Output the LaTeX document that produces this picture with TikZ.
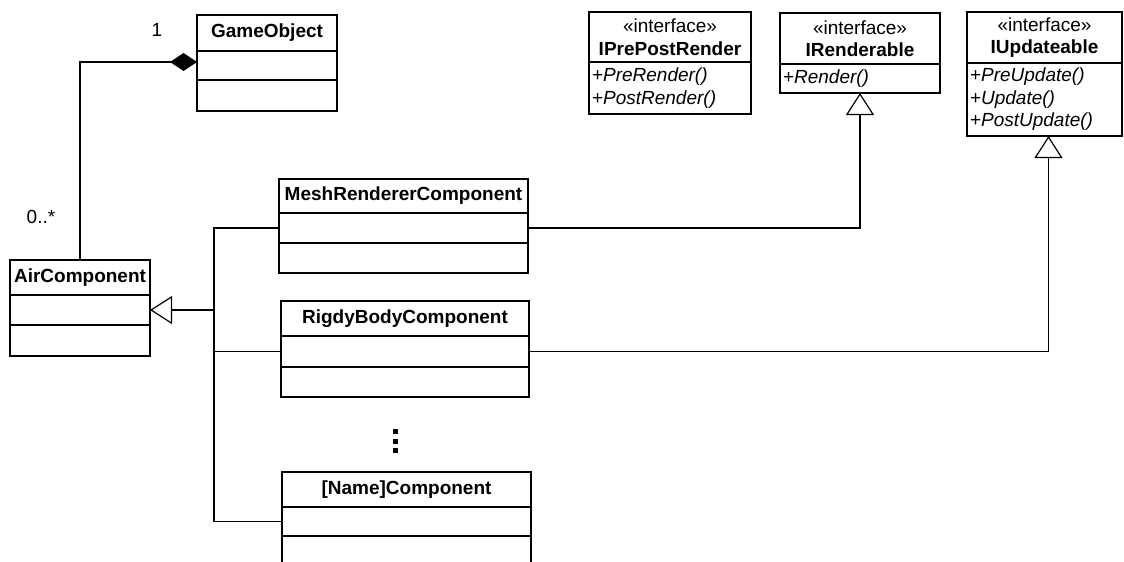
\documentclass[tikz,border=0pt]{standalone}
\usepackage{fontspec}
\setmainfont{Liberation Sans}
\usetikzlibrary{positioning,arrows.meta}

\begin{document}
\begin{tikzpicture}[x=1pt,y=-1pt,node distance=0pt,
        box/.style = {draw, line width=1.8pt, inner sep=0pt, outer sep=0pt, font=\fontsize{19}{22.5}\selectfont},
        head/.style = {box, anchor=north west, align=center},
        part/.style = {box},
        meth/.style = {box, align=left},
        lbl/.style = {font=\fontsize{19}{22.5}\selectfont},
        conn/.style = {line width=1.2pt},
        gen/.style = {conn, -{Triangle[length=22pt,width=28pt,fill=white]}},
        comp/.style = {conn, -{Diamond[length=27pt,width=18pt]}}]
        \clip (0,0) rectangle (1124,562);
        \node[head, minimum width=140pt, minimum height=36pt] (go) at (197,15) {\textbf{GameObject}};
        \node[part, minimum width=140pt, minimum height=29pt] (go1) [below=of go] {};
        \node[part, minimum width=140pt, minimum height=31pt] (go2) [below=of go1] {};
        \node[head, minimum width=140pt, minimum height=35pt] (ac) at (10,260) {\textbf{AirComponent}};
        \node[part, minimum width=140pt, minimum height=30pt] (ac1) [below=of ac] {};
        \node[part, minimum width=140pt, minimum height=31pt] (ac2) [below=of ac1] {};
        \node[head, minimum width=249pt, minimum height=34pt] (mr) at (279,179) {\textbf{MeshRendererComponent}};
        \node[part, minimum width=249pt, minimum height=30pt] (mr1) [below=of mr] {};
        \node[part, minimum width=249pt, minimum height=30pt] (mr2) [below=of mr1] {};
        \node[head, minimum width=248pt, minimum height=35pt] (rb) at (281,301) {\textbf{RigdyBodyComponent}};
        \node[part, minimum width=248pt, minimum height=31pt] (rb1) [below=of rb] {};
        \node[part, minimum width=248pt, minimum height=30pt] (rb2) [below=of rb1] {};
        \node[head, minimum width=249pt, minimum height=35pt] (nc) at (282,472) {\textbf{[Name]Component}};
        \node[part, minimum width=249pt, minimum height=29pt] (nc1) [below=of nc] {};
        \node[part, minimum width=249pt, minimum height=31pt] (nc2) [below=of nc1] {};
        \node[head, minimum width=162pt, minimum height=50pt] (ipp) at (589,12) {«interface»\\\textbf{IPrePostRender}};
        \node[meth, minimum width=162pt, minimum height=52pt, text width=156pt] (ipp1) [below=of ipp] {+\textit{PreRender()}\\+\textit{PostRender()}};
        \node[head, minimum width=160pt, minimum height=51pt] (ir) at (780,13) {«interface»\\\textbf{IRenderable}};
        \node[meth, minimum width=160pt, minimum height=29pt, text width=154pt] (ir1) [below=of ir] {+\textit{Render()}};
        \node[head, minimum width=155pt, minimum height=51pt] (iu) at (967,12) {«interface»\\\textbf{IUpdateable}};
        \node[meth, minimum width=155pt, minimum height=73pt, text width=149pt] (iu1) [below=of iu] {+\textit{PreUpdate()}\\+\textit{Update()}\\+\textit{PostUpdate()}};
        \node[lbl] (one) at (157,30) {1};
        \node[lbl] (many) at (41,217) {0..*};
        \coordinate (t) at (214,310);
        \draw[comp] (ac.north) |- ([yshift=3.5pt]go1.west);
        \draw[gen] (mr1.west) -| (t) -- (ac1.east);
        \draw[conn] (rb1.west) -| (t);
        \draw[conn] (nc1.west) -| (t);
        \draw[gen] (mr1.east) -| (ir1.south);
        \draw[gen] (rb1.east) -| ([xshift=4pt]iu1.south);
        \foreach \y in {431,441,450} \fill (392.5,\y-2.5) rectangle ++(5,5);
\end{tikzpicture}
\end{document}
